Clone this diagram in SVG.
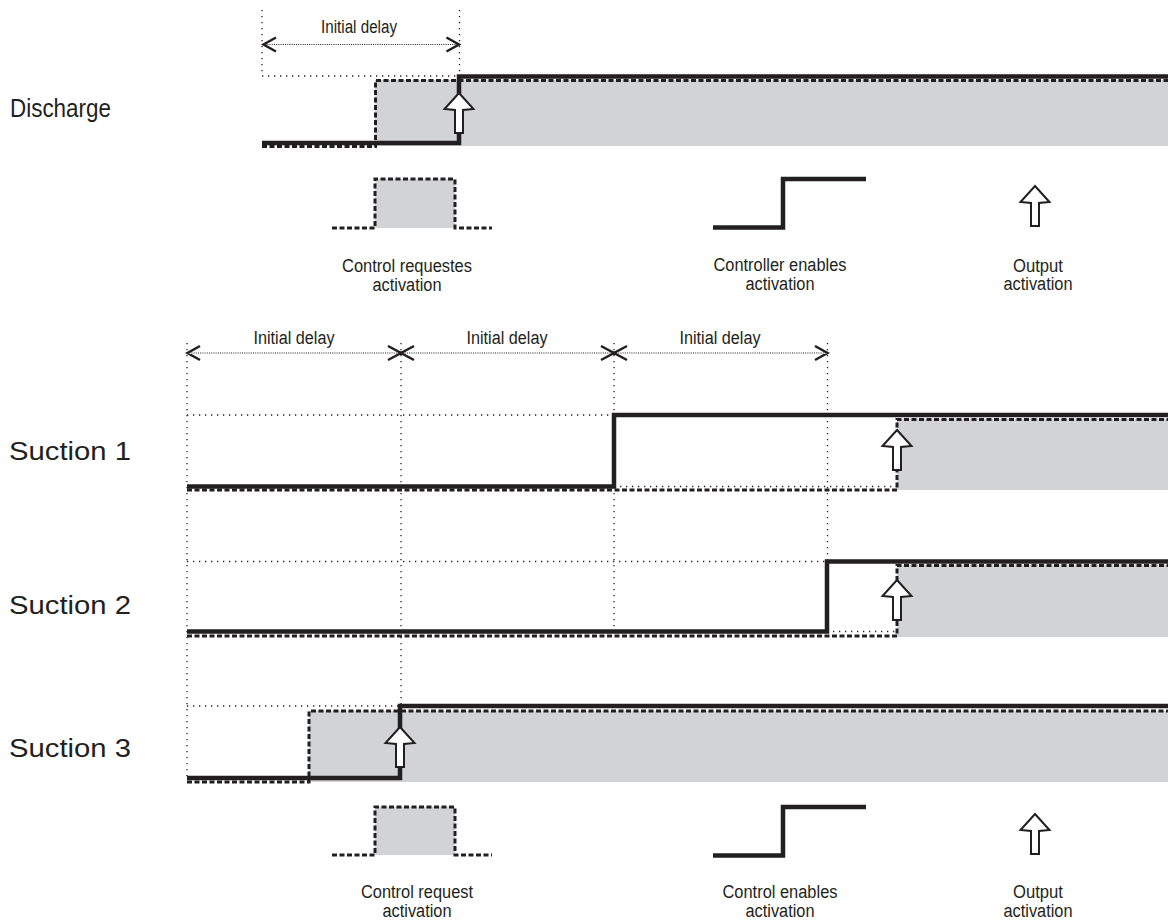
<svg xmlns="http://www.w3.org/2000/svg" width="1168" height="923" viewBox="0 0 1168 923">
<defs>
<style>
.lbl{font-family:"Liberation Sans",Arial,sans-serif;fill:#231f20}
.row{font-size:26px}
.sm{font-size:18px;text-anchor:middle}
.dot{fill:none;stroke:#231f20;stroke-width:1.3;stroke-dasharray:1.3 4.7}
.dim{fill:none;stroke:#231f20;stroke-width:1.2;stroke-dasharray:1 1.2}
.chev{fill:none;stroke:#231f20;stroke-width:2.5}
.sol{fill:none;stroke:#231f20;stroke-width:4.5}
.dash{fill:none;stroke:#231f20;stroke-width:3;stroke-dasharray:5 2.5}
.gray{fill:#d1d3d4}
.arr{fill:#fff;stroke:#231f20;stroke-width:2}
</style>
<path id="ha" d="M0,0 L14.5,16 L4,17 L4,40 L-4,40 L-4,17 L-14.5,16 Z"/>
</defs>
<rect width="1168" height="923" fill="#fff"/>

<g id="connectors">
<path class="dot" d="M262,10 V76 M459.5,10 V76 M262,76 H459.5"/>
<path class="dim" d="M263,44.5 H459"/>
<path class="chev" d="M276,37.5 L263.5,44.5 L276,51.5 M446.5,37.5 L459,44.5 L446.5,51.5"/>
<path class="dot" d="M187,343 V778 M401,343 V706 M614,343 V632 M827.5,343 V561"/>
<path class="dim" d="M187,353 H827.5"/>
<path class="chev" d="M200,346 L187.5,353 L200,360 M388,346 L401,353 L388,360 M414,346 L401,353 L414,360 M601,346 L614,353 L601,360 M627,346 L614,353 L627,360 M815,346 L827.5,353 L815,360"/>
</g>

<g id="delay-labels">
<text class="lbl sm" x="359" y="33" textLength="76" lengthAdjust="spacingAndGlyphs">Initial delay</text>
<text class="lbl sm" x="294" y="344" textLength="81" lengthAdjust="spacingAndGlyphs">Initial delay</text>
<text class="lbl sm" x="507" y="344" textLength="81" lengthAdjust="spacingAndGlyphs">Initial delay</text>
<text class="lbl sm" x="720" y="344" textLength="81" lengthAdjust="spacingAndGlyphs">Initial delay</text>
</g>

<g id="discharge">
<text class="lbl row" x="10" y="117" textLength="101" lengthAdjust="spacingAndGlyphs">Discharge</text>
<rect class="gray" x="375" y="80" width="793" height="66"/>
<path class="dash" d="M262,146.5 H375.5 V80.5 H1168"/>
<path class="sol" d="M262,143 H459 V76.5 H1168"/>
<use href="#ha" class="arr" x="459" y="93"/>
</g>

<g id="legend-top">
<rect class="gray" x="375" y="179" width="80" height="49"/>
<path class="dash" d="M332,228 H375 V179 H455 V228 H492"/>
<text class="lbl sm" x="407" y="272" textLength="130" lengthAdjust="spacingAndGlyphs">Control requestes</text>
<text class="lbl sm" x="407" y="291" textLength="69" lengthAdjust="spacingAndGlyphs">activation</text>
<path class="sol" d="M713,227.5 H783 V179 H866"/>
<text class="lbl sm" x="780" y="271" textLength="133" lengthAdjust="spacingAndGlyphs">Controller enables</text>
<text class="lbl sm" x="780" y="290" textLength="69" lengthAdjust="spacingAndGlyphs">activation</text>
<use href="#ha" class="arr" x="1035" y="186"/>
<text class="lbl sm" x="1038" y="272" textLength="50" lengthAdjust="spacingAndGlyphs">Output</text>
<text class="lbl sm" x="1038" y="290" textLength="69" lengthAdjust="spacingAndGlyphs">activation</text>
</g>

<g id="suction1">
<text class="lbl row" x="9" y="460" textLength="122" lengthAdjust="spacingAndGlyphs">Suction 1</text>
<path class="dot" d="M187,415 H614 M614,486.5 H897"/>
<rect class="gray" x="897" y="419" width="271" height="71"/>
<path class="dash" d="M187,490 H897 V419.5 H1168"/>
<path class="sol" d="M187,486.5 H614 V415 H1168"/>
<use href="#ha" class="arr" x="897" y="430"/>
</g>

<g id="suction2">
<text class="lbl row" x="9" y="614" textLength="122" lengthAdjust="spacingAndGlyphs">Suction 2</text>
<path class="dot" d="M187,561.5 H827 M827,631.5 H897"/>
<rect class="gray" x="897" y="565" width="271" height="72"/>
<path class="dash" d="M187,636 H897 V565.5 H1168"/>
<path class="sol" d="M187,631.5 H827 V561.5 H1168"/>
<use href="#ha" class="arr" x="897" y="580"/>
</g>

<g id="suction3">
<text class="lbl row" x="9" y="757" textLength="122" lengthAdjust="spacingAndGlyphs">Suction 3</text>
<path class="dot" d="M187,706 H400"/>
<rect class="gray" x="309" y="711" width="859" height="71"/>
<path class="dash" d="M187,782 H309 V711 H1168"/>
<path class="sol" d="M187,778 H400 V706 H1168"/>
<use href="#ha" class="arr" x="400" y="727"/>
</g>

<g id="legend-bottom">
<rect class="gray" x="375" y="807" width="80" height="48"/>
<path class="dash" d="M332,855 H375 V807 H455 V855 H492"/>
<text class="lbl sm" x="417" y="898" textLength="112" lengthAdjust="spacingAndGlyphs">Control request</text>
<text class="lbl sm" x="417" y="917" textLength="69" lengthAdjust="spacingAndGlyphs">activation</text>
<path class="sol" d="M713,855.5 H783 V807 H866"/>
<text class="lbl sm" x="780" y="898" textLength="115" lengthAdjust="spacingAndGlyphs">Control enables</text>
<text class="lbl sm" x="780" y="917" textLength="69" lengthAdjust="spacingAndGlyphs">activation</text>
<use href="#ha" class="arr" x="1035" y="814"/>
<text class="lbl sm" x="1038" y="898" textLength="50" lengthAdjust="spacingAndGlyphs">Output</text>
<text class="lbl sm" x="1038" y="917" textLength="69" lengthAdjust="spacingAndGlyphs">activation</text>
</g>
</svg>
